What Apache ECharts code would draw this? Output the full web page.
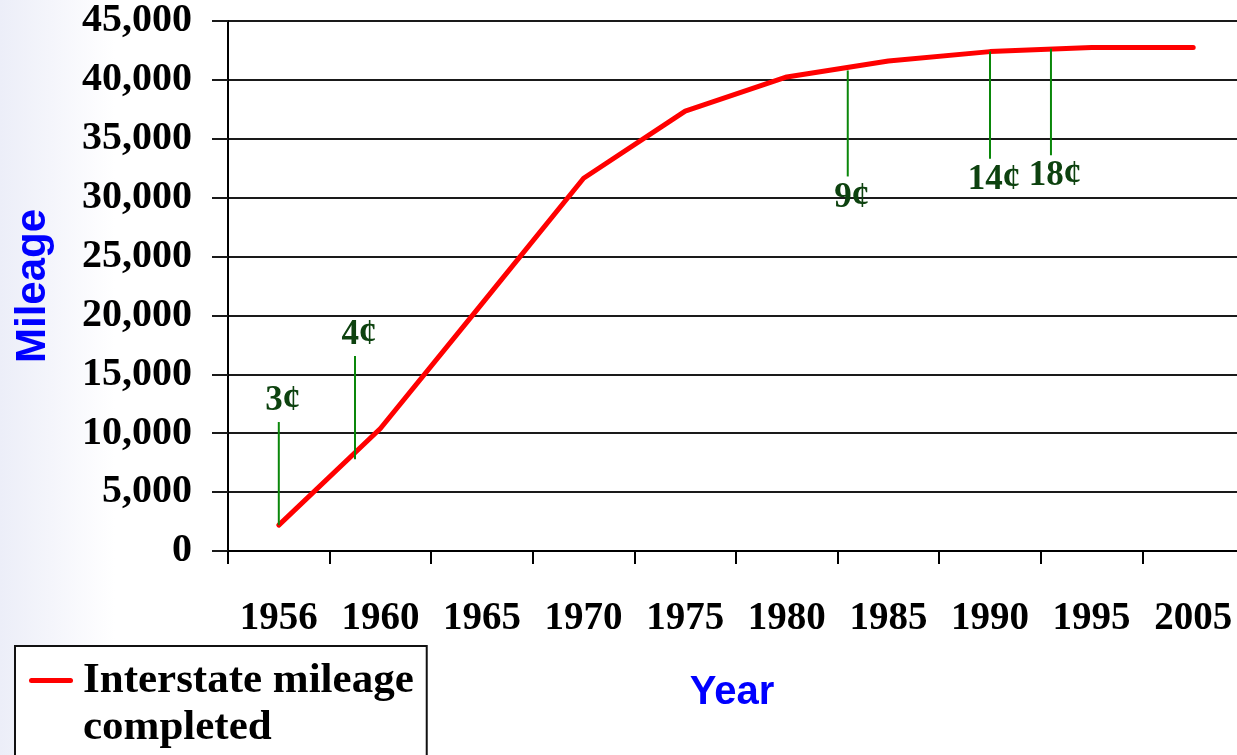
<!DOCTYPE html>
<html>
<head>
<meta charset="utf-8">
<script src="https://cdn.jsdelivr.net/npm/echarts@6/dist/echarts.min.js"></script>
<style>
  html, body { margin: 0; padding: 0; width: 1237px; height: 755px; overflow: hidden;
    background: linear-gradient(90deg, #eceef8 0px, #f4f5fb 50px, #ffffff 115px); }
  #chart { width: 1237px; height: 755px; }
</style>
</head>
<body>
<div id="chart"></div>
<script>
// ---- data ----
const categories = ['1956', '1960', '1965', '1970', '1975', '1980', '1985', '1990', '1995', '2005'];
const categoryYears = [1956, 1960, 1965, 1970, 1975, 1980, 1985, 1990, 1995, 2005];
const mileage = [2200, 10400, 21000, 31650, 37350, 40250, 41600, 42400, 42750, 42750];
const seriesName = 'Interstate mileage completed';

// federal gas tax increases
const taxYears = [1956, 1959, 1983, 1990, 1993];
const taxLabels = ['3¢', '4¢', '9¢', '14¢', '18¢'];
const taxFrom = [2200, 7800, 40800, 42400, 42650];
const taxTo = [10950, 16550, 31800, 33300, 33600];

const yMin = 0, yMax = 45000, yStep = 5000;

// map a year to a position on the category band (category i centred at i + 0.5)
function yearToPos(year) {
  for (let i = 0; i < categoryYears.length - 1; i++) {
    const a = categoryYears[i], b = categoryYears[i + 1];
    if (year >= a && year <= b) return i + 0.5 + (year - a) / (b - a);
  }
  return categoryYears.length - 0.5;
}
const taxData = taxYears.map((y, i) => [yearToPos(y), taxFrom[i], taxTo[i], taxLabels[i]]);

const serif = 'Liberation Serif';
const chart = echarts.init(document.getElementById('chart'), null, { renderer: 'canvas' });
chart.setOption({
  backgroundColor: 'transparent',
  animation: false,
  grid: { left: 228, top: 21, height: 530, width: 1016, containLabel: false, outerBoundsMode: 'none' },
  legend: {
    data: [seriesName],
    left: 15, top: 646,
    orient: 'vertical',
    icon: 'none',
    itemWidth: 0,
    itemHeight: 10,
    padding: [13, 13, 30, 9],
    backgroundColor: '#ffffff',
    borderColor: '#111111',
    borderWidth: 2,
    borderRadius: 0,
    formatter: () => '{bar| }{gap| }{t|Interstate mileage}\n{sp| }{t|completed}',
    textStyle: {
      rich: {
        bar: { width: 44, height: 5, backgroundColor: '#ff0000', borderRadius: 2.5, lineHeight: 47 },
        gap: { width: 10, lineHeight: 47 },
        sp: { width: 54, lineHeight: 47 },
        t: { fontFamily: serif, fontWeight: 'bold', fontSize: 43, lineHeight: 47, color: '#000' }
      }
    }
  },
  xAxis: [
    {
      type: 'category',
      data: categories,
      boundaryGap: true,
      name: 'Year',
      nameLocation: 'middle',
      nameGap: 122,
      nameTextStyle: { fontFamily: 'Liberation Sans', fontWeight: 'bold', fontSize: 40, color: '#0000ff', verticalAlign: 'top', padding: [0, 8, 0, 0] },
      axisLine: { show: true, lineStyle: { color: '#000', width: 2 } },
      axisTick: { show: true, length: 13, lineStyle: { color: '#000', width: 2 } },
      axisLabel: { margin: 48, fontFamily: serif, fontWeight: 'bold', fontSize: 39, color: '#000', interval: 0, verticalAlign: 'top', hideOverlap: false },
      splitLine: { show: false }
    },
    {
      type: 'value', min: 0, max: categories.length, show: false
    }
  ],
  yAxis: {
    type: 'value',
    min: yMin, max: yMax, interval: yStep,
    name: 'Mileage',
    nameLocation: 'middle',
    nameGap: 174,
    nameRotate: 90,
    nameTextStyle: { fontFamily: 'Liberation Sans', fontWeight: 'bold', fontSize: 42, color: '#0000ff' },
    axisLine: { show: true, lineStyle: { color: '#000', width: 2 } },
    axisTick: { show: true, length: 16, lineStyle: { color: '#1a1a1a', width: 2 } },
    axisLabel: {
      margin: 36, fontFamily: serif, fontWeight: 'bold', fontSize: 40, color: '#000',
      formatter: v => v.toLocaleString('en-US')
    },
    splitLine: { show: true, lineStyle: { color: '#1a1a1a', width: 2 } }
  },
  series: [
    {
      name: seriesName,
      type: 'line',
      xAxisIndex: 0,
      data: mileage,
      symbol: 'none',
      lineStyle: { color: '#ff0000', width: 5, cap: 'round', join: 'round' },
      itemStyle: { color: '#ff0000' },
      z: 3
    },
    {
      name: 'Gas tax',
      type: 'custom',
      xAxisIndex: 1,
      data: taxData,
      z: 4,
      renderItem: (params, api) => {
        const x = api.value(0), from = api.value(1), to = api.value(2);
        const label = taxLabels[params.dataIndex];
        const p1 = api.coord([x, from]);
        const p2 = api.coord([x, to]);
        const up = to > from;
        return {
          type: 'group',
          children: [
            { type: 'line', shape: { x1: p1[0], y1: p1[1], x2: p2[0], y2: p2[1] },
              style: { stroke: '#0a870a', lineWidth: 2 } },
            { type: 'text', style: {
                text: label, x: p2[0] + 4, y: p2[1] + (up ? -21 : 21),
                align: 'center', verticalAlign: 'middle',
                fontFamily: serif, fontWeight: 'bold', fontSize: 35, fill: '#0d420f' } }
          ]
        };
      }
    }
  ]
});
</script>
</body>
</html>
